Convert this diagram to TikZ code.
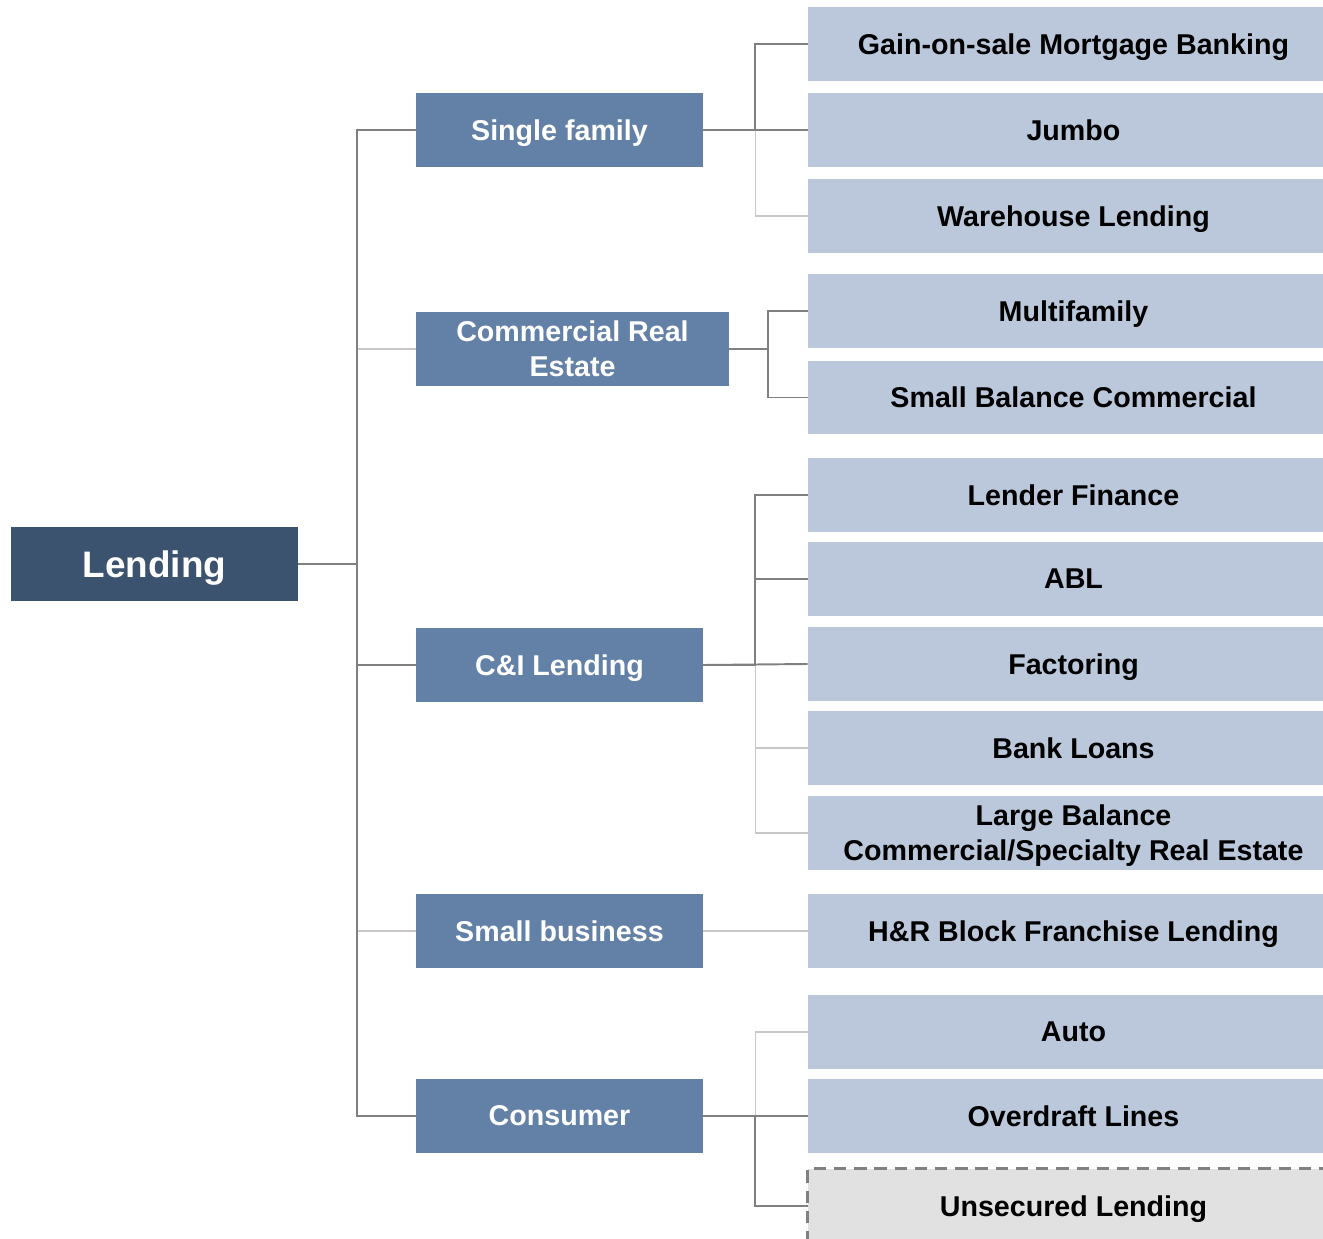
\documentclass[tikz,border=0pt]{standalone}
\usepackage{fontspec}
\setmainfont{Liberation Sans}
\usepackage{tikz}
\usetikzlibrary{calc}

\definecolor{topblue}{HTML}{3C5370}
\definecolor{midblue}{HTML}{6381A7}
\definecolor{leafblue}{HTML}{BBC8DB}
\definecolor{dkline}{HTML}{808080}
\definecolor{ltline}{HTML}{C8C8C8}
\definecolor{plangray}{HTML}{E1E1E1}

\begin{document}
\begin{tikzpicture}[x=0.02cm, y=-0.02cm,
    box/.style={inner sep=0pt, align=center, text depth=0pt,
        font=\fontsize{16.3}{20}\selectfont\bfseries},
    root/.style={box, fill=topblue, text=white, minimum width=5.74cm, minimum height=1.48cm,
        font=\fontsize{21}{25}\selectfont\bfseries},
    mid/.style={box, fill=midblue, text=white, minimum width=5.74cm, minimum height=1.48cm},
    leaf/.style={box, fill=leafblue, text=black, minimum width=10.62cm, minimum height=1.48cm},
    planned/.style={box, fill=plangray, text=black, minimum width=10.62cm, minimum height=1.48cm},
    dk/.style={draw=dkline, line width=1.1pt},
    lt/.style={draw=ltline, line width=0.9pt}]
    \useasboundingbox (0,0) rectangle (1323,1239);
\node[root] (lend) at (154.5, 564) {Lending};
\node[mid] (sf) at (559.5, 130) {Single family};
\node[mid, minimum width=6.26cm] (cre) at (572.5, 349) {Commercial Real\\Estate};
\node[mid] (ci) at (559.5, 665) {C\&I Lending};
\node[mid] (sb) at (559.5, 931) {Small business};
\node[mid] (cons) at (559.5, 1116) {Consumer};
\node[leaf] (gain) at (1073.5, 44) {Gain-on-sale Mortgage Banking};
\node[leaf] (jumbo) at (1073.5, 130) {Jumbo};
\node[leaf] (ware) at (1073.5, 216) {Warehouse Lending};
\node[leaf] (multi) at (1073.5, 311) {Multifamily};
\node[leaf] (sbc) at (1073.5, 397.5) {Small Balance Commercial};
\node[leaf] (lendfin) at (1073.5, 495) {Lender Finance};
\node[leaf] (abl) at (1073.5, 579) {ABL};
\node[leaf] (fact) at (1073.5, 664) {Factoring};
\node[leaf] (bank) at (1073.5, 748) {Bank Loans};
\node[leaf] (large) at (1073.5, 833) {Large Balance\\Commercial/Specialty Real Estate};
\node[leaf] (hrb) at (1073.5, 931) {H\&R Block Franchise Lending};
\node[leaf] (auto) at (1073.5, 1032) {Auto};
\node[leaf] (over) at (1073.5, 1116) {Overdraft Lines};
\node[planned] (unsec) at (1073.5, 1206) {Unsecured Lending};
    \draw[dkline, line width=2pt, dash pattern=on 7pt off 4.5pt]
        (unsec.south west) -- (unsec.north west) -- (unsec.north east);
    % lending to segments
    \draw[lt] (lend.east) -- ++(59,0) |- (cre.west);
    \draw[lt] (lend.east) -- ++(59,0) |- (sb.west);
    \draw[dk] (lend.east) -- ++(59,0) |- (sf.west);
    \draw[dk] (lend.east) -- ++(59,0) |- (ci.west);
    \draw[dk] (lend.east) -- ++(59,0) |- (cons.west);
    % single family
    \draw[lt] (sf.east) -- ++(52,0) |- (ware.west);
    \draw[dk] (sf.east) -- ++(52,0) |- (gain.west);
    \draw[dk] (sf.east) -- (jumbo.west);
    % commercial real estate
    \draw[dk] (cre.east) -- ++(39,0) |- (multi.west);
    \draw[dk] (cre.east) -- ++(39,0) |- (sbc.west);
    % c&i
    \draw[lt] (ci.east) -- ++(52,0) |- (bank.west);
    \draw[lt] (ci.east) -- ++(52,0) |- (large.west);
    \draw[dk] (ci.east) -- ++(52,0) |- (lendfin.west);
    \draw[dk] (ci.east) -- ++(52,0) |- (abl.west);
    \draw[dk] (ci.east) -- (fact.west);
    % small business
    \draw[lt] (sb.east) -- (hrb.west);
    % consumer
    \draw[lt] (cons.east) -- ++(52,0) |- (auto.west);
    \draw[dk] (cons.east) -- (over.west);
    \draw[dk] (cons.east) -- ++(52,0) |- (unsec.west);
\end{tikzpicture}
\end{document}
